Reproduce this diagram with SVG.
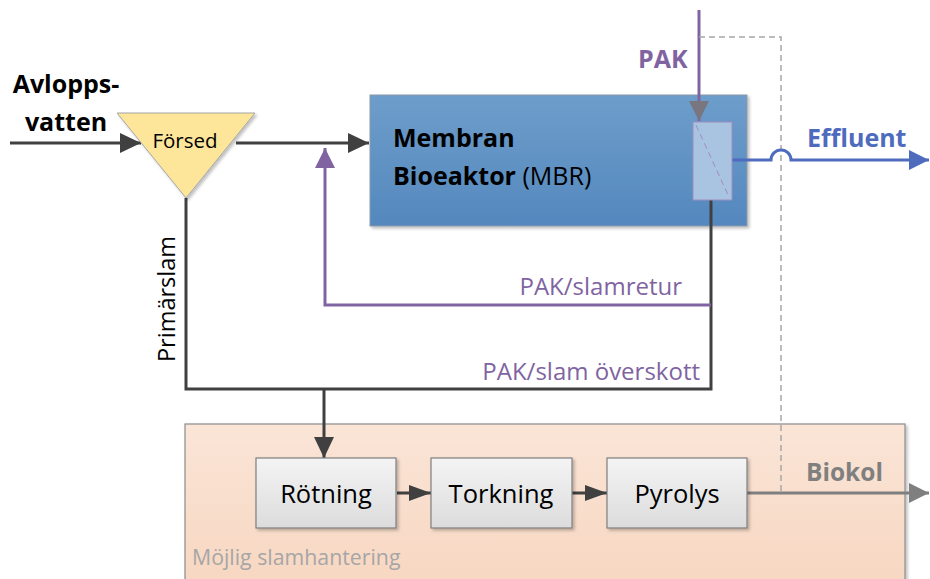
<svg xmlns="http://www.w3.org/2000/svg" width="930" height="579" viewBox="0 0 930 579">
<style>
text{font-family:"Open Sans","Noto Sans","Liberation Sans",sans-serif}
.dark{stroke:#404040;stroke-width:3;fill:none}
.purp{stroke:#8064a2;stroke-width:3;fill:none}
.box{fill:url(#gBox);stroke:#7f7f7f;stroke-width:1.2}
.btxt{font-size:25.5px;fill:#000;text-anchor:middle}
.ptxt{font-size:24px;fill:#8064a2;text-anchor:end}
</style>
<defs>
<linearGradient id="gMBR" x1="0" y1="0" x2="0" y2="1"><stop offset="0" stop-color="#6d9dca"/><stop offset="1" stop-color="#5488be"/></linearGradient>
<linearGradient id="gBox" x1="0" y1="0" x2="0" y2="1"><stop offset="0" stop-color="#f4f4f4"/><stop offset="1" stop-color="#dcdcdc"/></linearGradient>
<linearGradient id="gOr" x1="0" y1="0" x2="0" y2="1"><stop offset="0" stop-color="#fae5d7"/><stop offset="1" stop-color="#f7d6c0"/></linearGradient>
<filter id="sh" x="-10%" y="-10%" width="130%" height="130%"><feDropShadow dx="2" dy="2" stdDeviation="1.5" flood-color="#000" flood-opacity="0.25"/></filter>
<marker id="aDark" markerUnits="userSpaceOnUse" markerWidth="22" markerHeight="20" refX="21" refY="10" orient="auto"><path d="M0,0 L21,10 L0,20 z" fill="#404040"/></marker>
<marker id="aDarkS" markerUnits="userSpaceOnUse" markerWidth="22" markerHeight="18" refX="22" refY="8" orient="auto"><path d="M0,0 L22,8 L0,16 z" fill="#404040"/></marker>
<marker id="aPurp" markerUnits="userSpaceOnUse" markerWidth="22" markerHeight="20" refX="20" refY="10" orient="auto"><path d="M0,0 L20,10 L0,20 z" fill="#8064a2"/></marker>
<marker id="aPak" markerUnits="userSpaceOnUse" markerWidth="22" markerHeight="20" refX="20" refY="10" orient="auto"><path d="M0,0 L20,10 L0,20 z" fill="#7a7680"/></marker>
<marker id="aBlue" markerUnits="userSpaceOnUse" markerWidth="22" markerHeight="20" refX="20" refY="10" orient="auto"><path d="M0,0 L20,10 L0,20 z" fill="#4e6bbd"/></marker>
<marker id="aGray" markerUnits="userSpaceOnUse" markerWidth="22" markerHeight="20" refX="20" refY="10" orient="auto"><path d="M0,0 L20,10 L0,20 z" fill="#7f7f7f"/></marker>
</defs>

<g id="slamhantering">
<rect x="185" y="424" width="720" height="170" fill="url(#gOr)" stroke="#8c8c8c" stroke-width="1.2" filter="url(#sh)"/>
<text x="192" y="565" font-size="21.3" fill="#a6a6a6">Möjlig slamhantering</text>
</g>

<g id="mbr">
<rect x="370" y="95" width="377" height="131" fill="url(#gMBR)" stroke="#8a9aaa" stroke-width="1" filter="url(#sh)"/>
<text x="393" y="147" font-size="25" font-weight="bold" fill="#000">Membran</text>
<text x="393" y="185" font-size="25" fill="#000"><tspan font-weight="bold">Bioeaktor</tspan> (MBR)</text>
</g>

<g id="connectors">
<line x1="10" y1="143" x2="141" y2="143" class="dark" marker-end="url(#aDark)"/>
<line x1="236" y1="143" x2="369" y2="143" class="dark" marker-end="url(#aDark)"/>
<polyline points="186,198 186,389 711,389 711,200" class="dark"/>
<line x1="324" y1="389" x2="324" y2="458" class="dark" marker-end="url(#aDark)"/>
<polyline points="711,305 325,305 325,148" class="purp" marker-end="url(#aPurp)"/>
<line x1="699" y1="10" x2="699" y2="121" class="purp" marker-end="url(#aPak)"/>
<polyline points="699,37 781,37 781,493" fill="none" stroke="#a6a6a6" stroke-width="1.5" stroke-dasharray="6,4"/>
<path d="M732,160 L771,160 A10,10 0 0 1 791,160 L929,160" fill="none" stroke="#4e6bbd" stroke-width="3" marker-end="url(#aBlue)"/>
<line x1="397" y1="493" x2="431" y2="493" class="dark" marker-end="url(#aDarkS)"/>
<line x1="572" y1="493" x2="607" y2="493" class="dark" marker-end="url(#aDarkS)"/>
<line x1="747" y1="493" x2="929" y2="493" stroke="#7f7f7f" stroke-width="3" marker-end="url(#aGray)"/>
</g>

<g id="membran">
<rect x="693" y="122" width="39" height="78" fill="#a9c4e0" stroke="#9e8cc2" stroke-width="1"/>
<line x1="696" y1="125" x2="729" y2="197" stroke="#9e8cc2" stroke-width="1" stroke-dasharray="6,4"/>
</g>

<g id="forsed">
<polygon points="117,113 255,113 186,198" fill="#fde59a" stroke="#a6a6a6" stroke-width="1" filter="url(#sh)"/>
<text x="185" y="148" font-size="20.5" fill="#000" text-anchor="middle">Försed</text>
</g>

<g id="rotning">
<rect x="256" y="458" width="140" height="70" class="box" filter="url(#sh)"/>
<text x="326" y="503" class="btxt">Rötning</text>
</g>
<g id="torkning">
<rect x="431" y="458" width="141" height="70" class="box" filter="url(#sh)"/>
<text x="501" y="503" class="btxt">Torkning</text>
</g>
<g id="pyrolys">
<rect x="607" y="458" width="140" height="70" class="box" filter="url(#sh)"/>
<text x="677" y="503" class="btxt">Pyrolys</text>
</g>

<g id="labels">
<text x="66" y="93" font-size="25" font-weight="bold" fill="#000" text-anchor="middle">Avlopps-</text>
<text x="66" y="131" font-size="25" font-weight="bold" fill="#000" text-anchor="middle">vatten</text>
<text x="638" y="68" font-size="25" font-weight="bold" fill="#8064a2">PAK</text>
<text x="807" y="147" font-size="25" font-weight="bold" fill="#4e6bbd">Effluent</text>
<text x="806" y="481" font-size="24.5" font-weight="bold" fill="#7f7f7f">Biokol</text>
<text x="682" y="295" class="ptxt">PAK/slamretur</text>
<text x="700" y="380" class="ptxt">PAK/slam överskott</text>
<text transform="translate(175,299) rotate(-90)" font-size="23.5" fill="#000" text-anchor="middle">Primärslam</text>
</g>
</svg>
